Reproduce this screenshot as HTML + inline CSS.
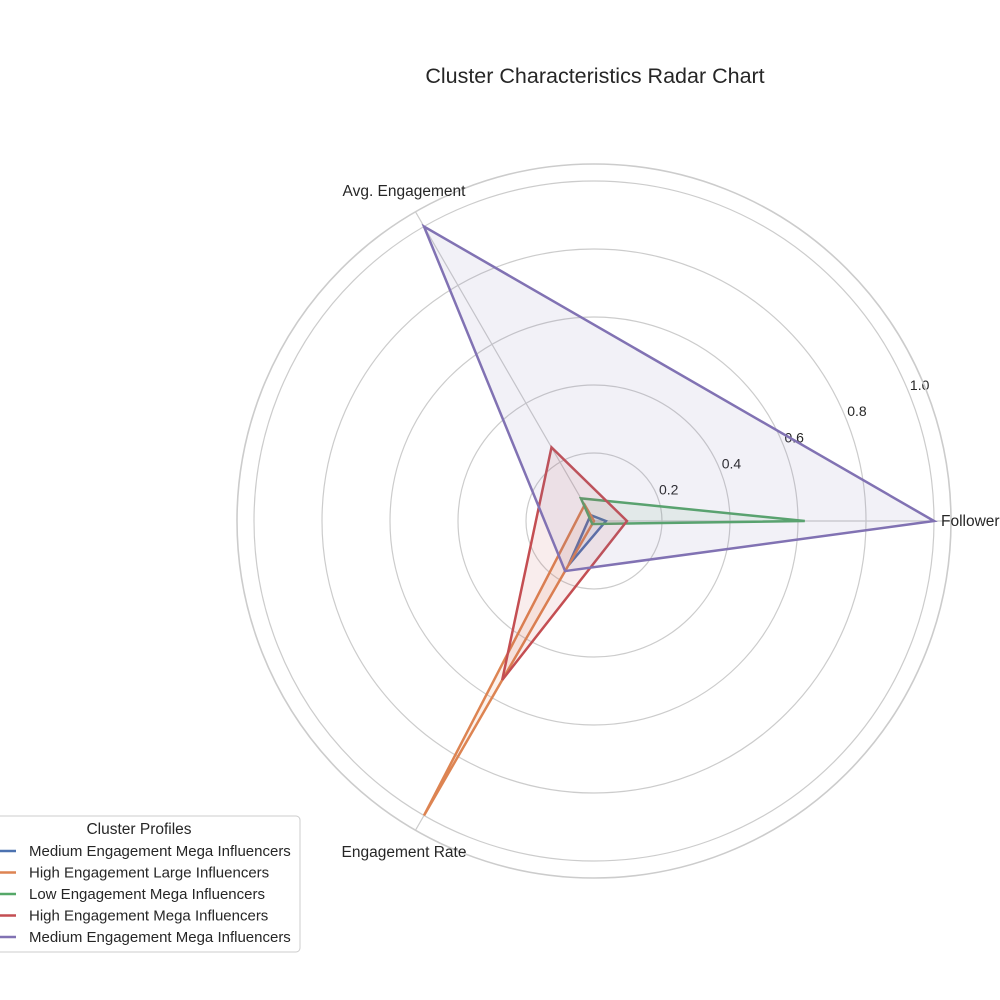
<!DOCTYPE html>
<html><head><meta charset="utf-8"><style>
body{margin:0;background:#fff;}
svg{display:block;font-family:"Liberation Sans",sans-serif;}
</style></head><body>
<svg id="chart" width="1000" height="1000" viewBox="0 0 1000 1000">
<text x="595" y="83" text-anchor="middle" font-size="21.5" fill="#262626">Cluster Characteristics Radar Chart</text>
<g id="grid"></g>
<g id="series"></g>
<g id="legend"></g>
</svg>
<script>
const axesLabels = ["Followers", "Avg. Engagement", "Engagement Rate"];
const seriesNames = ["Medium Engagement Mega Influencers","High Engagement Large Influencers","Low Engagement Mega Influencers","High Engagement Mega Influencers","Medium Engagement Mega Influencers"];
const seriesColors = ["#4c72b0","#dd8452","#55a868","#c44e52","#8172b3"];
const s0 = [0.035, 0.02, 0.15];
const s1 = [0.0, 0.055, 1.0];
const s2 = [0.62, 0.077, 0.01];
const s3 = [0.097, 0.25, 0.54];
const s4 = [1.0, 1.0, 0.17];
const seriesValues = [s0, s1, s2, s3, s4];
const ticks = [0.2, 0.4, 0.6, 0.8, 1.0];
const rMax = 1.05;

const NS = "http://www.w3.org/2000/svg";
const cx = 594, cy = 521, R1 = 340;
function rScale(v){ return v / 1.0 * R1; }
function angle(i){ return i * 2 * Math.PI / axesLabels.length; }
function pt(i, v){ const a = angle(i), r = rScale(v); return [cx + r*Math.cos(a), cy - r*Math.sin(a)]; }
function mk(tag, attrs, parent){ const e = document.createElementNS(NS, tag); for (const k in attrs) e.setAttribute(k, attrs[k]); parent.appendChild(e); return e; }

const grid = document.getElementById('grid');
ticks.forEach((t) => {
  const c = mk('circle', {cx:cx, cy:cy, r:rScale(t), fill:'none', stroke:'#cccccc', 'stroke-width':1.2}, grid);
  
  
  const a = 22.7 * Math.PI / 180;
  const rr = rScale(t) + 13;
  const tx = mk('text', {x: cx + rr*Math.cos(a), y: cy - rr*Math.sin(a) + 5, 'text-anchor':'middle', 'font-size':14, fill:'#262626'}, grid);
  tx.textContent = t.toFixed(1);
  
  
});
const outer = mk('circle', {cx:cx, cy:cy, r:rScale(rMax), fill:'none', stroke:'#cccccc', 'stroke-width':1.6}, grid);


axesLabels.forEach((lab, i) => {
  const [x, y] = pt(i, rMax);
  const l = mk('line', {x1:cx, y1:cy, x2:x, y2:y, stroke:'#cccccc', 'stroke-width':1.2}, grid);
  
  
  let lx, ly, anchor = 'middle';
  if (i === 0) { lx = 941; ly = 526; anchor = 'start'; }
  if (i === 1) { lx = 404; ly = 196; }
  if (i === 2) { lx = 404; ly = 857; }
  const t = mk('text', {x: lx, y: ly, 'text-anchor':anchor, 'font-size':15.5, fill:'#262626'}, grid);
  t.textContent = lab;
  
  
});

const sg = document.getElementById('series');
seriesValues.forEach((vals, si) => {
  const pts = vals.map((v, i) => pt(i, v).join(',')).join(' ');
  const f = mk('polygon', {points: pts, fill: seriesColors[si], 'fill-opacity': 0.1, stroke: 'none'}, sg);
  
  
  const p = mk('polygon', {points: pts, fill: 'none', stroke: seriesColors[si], 'stroke-width': 2.5, 'stroke-linejoin':'miter'}, sg);
  
  
});

const lg = document.getElementById('legend');
const box = mk('rect', {x:-5, y:816, width:305, height:136, rx:4, fill:'#fff', 'fill-opacity':0.8, stroke:'#cccccc', 'stroke-width':1}, lg);


const lt = mk('text', {x:139, y:834, 'text-anchor':'middle', 'font-size':15.5, fill:'#262626'}, lg);
lt.textContent = 'Cluster Profiles';


seriesNames.forEach((n, i) => {
  const y = 851 + i * 21.5;
  const ln = mk('line', {x1:-2, y1:y, x2:16, y2:y, stroke:seriesColors[i], 'stroke-width':2.5}, lg);
  
  
  const t = mk('text', {x:29, y:y + 5, 'font-size':15, fill:'#262626'}, lg);
  t.textContent = n;
  
  
});
</script>
</body></html>
